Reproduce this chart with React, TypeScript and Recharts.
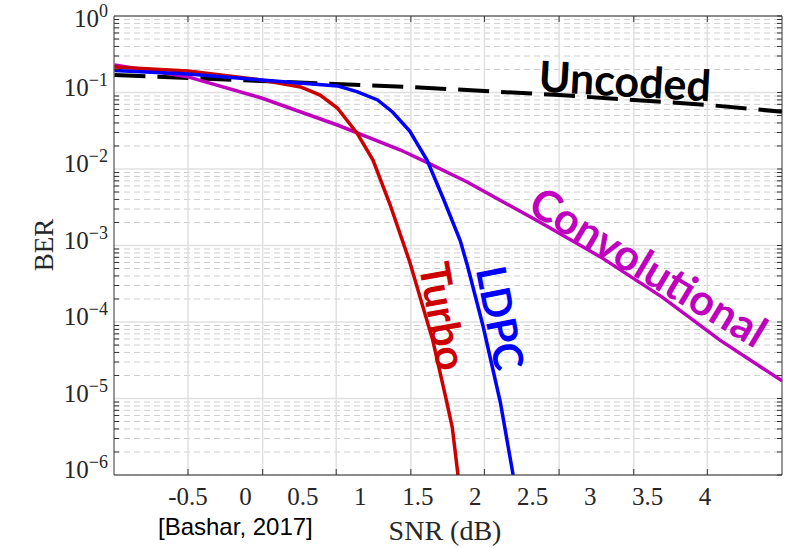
import React from "react";
import { LineChart, Line, XAxis, YAxis, CartesianGrid } from "recharts";

// tick values (x in dB)
const xTickLabels = [-0.5, 0, 0.5, 1, 1.5, 2, 2.5, 3, 3.5, 4];
const gridSnr = [-0.5, 0.15, 0.79, 1.44, 2.08, 2.73, 3.38, 4.02];
const decadeTicks = [1e-6, 1e-5, 1e-4, 1e-3, 1e-2, 1e-1, 1];
const minorMult = [2, 3, 4, 5, 6, 7, 8, 9];
const minorTicks = decadeTicks.slice(0, -1).flatMap((d) => minorMult.map((m) => m * d));

// series (SNR in dB, BER)
const uncodedSnr = [-1.14, 0.14, 1.43, 2.73, 4.03, 4.67];
const uncodedBer = [0.169, 0.141, 0.118, 0.0927, 0.0687, 0.0561];

const turboSnr = [-1.14, -0.5, 0.14, 0.48, 0.65, 0.8, 0.97, 1.11, 1.26, 1.43, 1.63, 1.75, 1.8, 1.85];
const turboBer = [0.215, 0.191, 0.146, 0.118, 0.0927, 0.0627, 0.0296, 0.0131, 0.00338, 6.1e-4, 5.8e-5, 9.3e-6, 4.2e-6, 1e-6];

const ldpcSnr = [-1.14, -0.5, 0.14, 0.8, 0.97, 1.15, 1.28, 1.43, 1.58, 1.72, 1.87, 1.93, 2.07, 2.22, 2.33];
const ldpcBer = [0.194, 0.175, 0.146, 0.122, 0.1025, 0.0798, 0.0556, 0.0314, 0.0131, 0.00418, 0.00115, 5.6e-4, 8.6e-5, 8.7e-6, 1e-6];

const convSnr = [-1.14, -0.5, 0.14, 0.8, 1.35, 1.61, 1.93, 2.56, 3.09, 3.63, 4.13, 4.67];
const convBer = [0.229, 0.16, 0.0847, 0.0376, 0.0177, 0.0116, 0.00676, 0.00203, 7.1e-4, 2.1e-4, 5.8e-5, 1.7e-5];

const toRows = (snr: number[], ber: number[]) => snr.map((s, i) => ({ snr: s, ber: ber[i] }));

const xDomain = [-1.144, 4.67];
const serif = "'Liberation Serif', 'DejaVu Serif', serif";
const bold = "Lato, 'Open Sans', sans-serif";

const supText: Record<number, string> = {
  1: "0", 0.1: "\u22121", 0.01: "\u22122", 0.001: "\u22123", 0.0001: "\u22124", 0.00001: "\u22125", 0.000001: "\u22126",
};

function YTick(p: any) {
  const v = p.payload.value;
  const dy = v === 1 ? 11 : 3;
  return (
    <text x={p.x} y={p.y + dy} textAnchor="end" fontFamily={serif} fontSize={25} fill="#262626">
      <tspan>10</tspan>
      <tspan dy={-10} fontSize={18}>{supText[v]}</tspan>
    </text>
  );
}

function XTick(p: any) {
  return (
    <text x={p.x} y={p.y + 30} textAnchor="middle" fontFamily={serif} fontSize={25} fill="#262626">
      {p.payload.value}
    </text>
  );
}

const NoLabel = () => <g />;

export default function App() {
  return (
    <div style={{ position: "absolute", left: 0, top: 0, width: 792, height: 548, background: "#fff" }}>
      <LineChart width={792} height={548} margin={{ top: 16, right: 10, bottom: 0, left: 0 }}>
        <CartesianGrid xAxisId="l" yAxisId="ym" vertical={false} stroke="#cfcfcf" strokeDasharray="6 4" />
        <CartesianGrid
          xAxisId="l"
          yAxisId="y"
          verticalValues={gridSnr}
          stroke="#e0e0e0"
          strokeWidth={1.5}
        />
        <XAxis
          xAxisId="g"
          dataKey="snr"
          type="number"
          domain={xDomain}
          ticks={gridSnr}
          interval={0}
          allowDataOverflow
          orientation="bottom"
          mirror
          height={1}
          tick={NoLabel}
          tickSize={6}
          stroke="#333"
        />
        <XAxis
          xAxisId="gt"
          dataKey="snr"
          type="number"
          domain={xDomain}
          ticks={gridSnr}
          interval={0}
          allowDataOverflow
          orientation="top"
          mirror
          height={1}
          tick={NoLabel}
          tickSize={6}
          stroke="#333"
        />
        <XAxis
          xAxisId="l"
          dataKey="snr"
          type="number"
          domain={xDomain}
          ticks={xTickLabels}
          interval={0}
          allowDataOverflow
          height={73}
          axisLine={false}
          tickLine={false}
          tickSize={0}
          tickMargin={0}
          tick={XTick}
        />
        <YAxis
          yAxisId="y"
          scale="log"
          type="number"
          domain={[1e-6, 1]}
          ticks={decadeTicks}
          interval={0}
          allowDataOverflow
          width={114}
          axisLine={false}
          tickLine={false}
          tickSize={0}
          tickMargin={6}
          tick={YTick}
        />
        <YAxis
          yAxisId="ym"
          scale="log"
          type="number"
          domain={[1e-6, 1]}
          ticks={minorTicks}
          interval={0}
          allowDataOverflow
          mirror
          width={1}
          tick={NoLabel}
          tickSize={5}
          stroke="#333"
        />
        <YAxis
          yAxisId="yr"
          orientation="right"
          scale="log"
          type="number"
          domain={[1e-6, 1]}
          ticks={[...decadeTicks, ...minorTicks]}
          interval={0}
          allowDataOverflow
          mirror
          width={1}
          tick={NoLabel}
          tickSize={5}
          stroke="#333"
        />
        <Line
          xAxisId="l"
          yAxisId="y"
          data={toRows(uncodedSnr, uncodedBer)}
          dataKey="ber"
          type="linear"
          stroke="#000"
          strokeWidth={4}
          strokeDasharray="31 12"
          dot={false}
          isAnimationActive={false}
        />
        <Line
          xAxisId="l"
          yAxisId="y"
          data={toRows(convSnr, convBer)}
          dataKey="ber"
          type="linear"
          stroke="#BF00BF"
          strokeWidth={3.5}
          dot={false}
          isAnimationActive={false}
        />
        <Line
          xAxisId="l"
          yAxisId="y"
          data={toRows(turboSnr, turboBer)}
          dataKey="ber"
          type="linear"
          stroke="#CC0000"
          strokeWidth={3.5}
          dot={false}
          isAnimationActive={false}
        />
        <Line
          xAxisId="l"
          yAxisId="y"
          data={toRows(ldpcSnr, ldpcBer)}
          dataKey="ber"
          type="linear"
          stroke="#0000FF"
          strokeWidth={3.5}
          dot={false}
          isAnimationActive={false}
        />
      </LineChart>
      <svg width={792} height={548} style={{ position: "absolute", left: 0, top: 0, pointerEvents: "none" }}>
        <text x={44} y={245} transform="rotate(-90 44 245)" textAnchor="middle" dominantBaseline="central" fontFamily={serif} fontSize={27} fill="#262626">
          BER
        </text>
        <text x={445} y={540} textAnchor="middle" fontFamily={serif} fontSize={28} fill="#262626">
          SNR (dB)
        </text>
        <text x={158} y={535} fontFamily="'Liberation Sans', Arial, sans-serif" fontSize={24} fill="#000">
          [Bashar, 2017]
        </text>
        <text x={625} y={80} transform="rotate(3.3 625 80)" textAnchor="middle" dominantBaseline="central" fontFamily={bold} fontWeight={700} fontSize={43} fill="#000">
          Uncoded
        </text>
        <text x={649} y={266} transform="rotate(31 649 266)" textAnchor="middle" dominantBaseline="central" fontFamily={bold} fontWeight={700} fontSize={43} fill="#BF00BF">
          Convolutional
        </text>
        <text x={444} y={316} transform="rotate(80 444 316)" textAnchor="middle" dominantBaseline="central" fontFamily={bold} fontWeight={700} fontSize={42} fill="#CC0000">
          Turbo
        </text>
        <text x={501} y={318} transform="rotate(79 501 318)" textAnchor="middle" dominantBaseline="central" fontFamily={bold} fontWeight={700} fontSize={41} fill="#0000FF">
          LDPC
        </text>
      </svg>
    </div>
  );
}
